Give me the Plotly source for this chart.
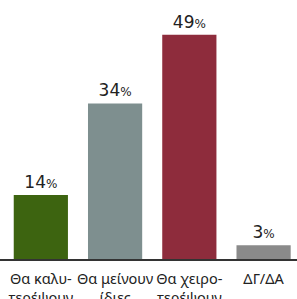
import plotly.graph_objects as go

categories = ["Θα καλυ-<br>τερέψουν", "Θα μείνουν<br>ίδιες", "Θα χειρο-<br>τερέψουν", "ΔΓ/ΔΑ"]
values = [14, 34, 49, 3]
colors = ["#3d6410", "#7e8f8f", "#8e2c3c", "#8a8a8a"]

fig = go.Figure(go.Bar(
    x=categories,
    y=values,
    marker=dict(color=colors, line=dict(width=0)),
    texttemplate="%{y}<span style='font-size:12px'>%</span>",
    textposition="outside",
    textfont=dict(family="DejaVu Sans", size=17, color="#222222"),
    cliponaxis=False,
))

fig.update_layout(
    width=297, height=299,
    margin=dict(l=0, r=0, t=0, b=40),
    paper_bgcolor="white", plot_bgcolor="white",
    bargap=0.27,
    showlegend=False,
    xaxis=dict(
        range=[-0.55, 3.45],
        automargin=False,
        showline=True, linecolor="#333333", linewidth=2,
        showgrid=False, ticks="",
        ticklabelstandoff=6,
        tickfont=dict(family="Noto Sans", size=14.5, color="#222222"),
    ),
    yaxis=dict(range=[0, 56.6], visible=False, showgrid=False, automargin=False),
)

fig.write_html(
    "out.html",
    config={"displayModeBar": False},
    post_script="document.body.style.margin='0';document.body.style.overflow='hidden';",
)
